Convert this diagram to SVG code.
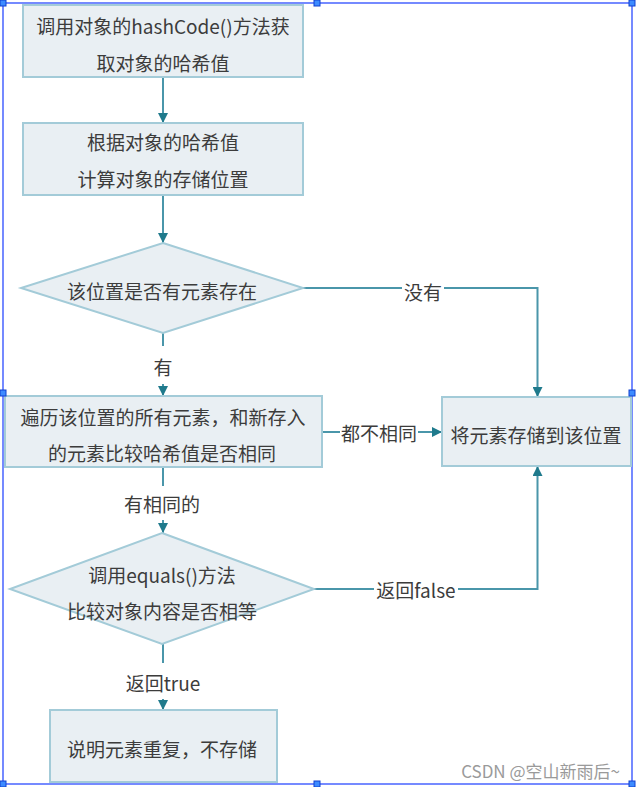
<svg xmlns="http://www.w3.org/2000/svg" width="636" height="787" viewBox="0 0 636 787">
<defs>
<marker id="arr" markerUnits="userSpaceOnUse" markerWidth="10" markerHeight="10" refX="10" refY="5" orient="auto">
<path d="M0,0 L10,5 L0,10 z" fill="#1f7a8c"/>
</marker>
<style>
.box{fill:#e9eff3;stroke:#a3cbd8;stroke-width:2}
.t{font-family:"Noto Sans CJK SC","Noto Sans",sans-serif;font-size:19px;fill:#3c3c3c;text-anchor:middle;dominant-baseline:central}
.c{fill:none;stroke:#4a96aa;stroke-width:2}
.lb{fill:#ffffff}
.h{fill:#3d8bff;stroke:#1040d0;stroke-width:1}
</style>
</defs>
<rect width="636" height="787" fill="#ffffff"/>
<rect x="3" y="3" width="629" height="781" fill="none" stroke="#1a3cff" stroke-width="1.2"/>
<g id="connectors">
<line class="c" x1="163" y1="77" x2="163" y2="123" marker-end="url(#arr)"/>
<line class="c" x1="163" y1="195" x2="163" y2="243" marker-end="url(#arr)"/>
<polyline class="c" points="303,288 537.5,288 537.5,397" marker-end="url(#arr)"/>
<rect class="lb" x="402" y="278" width="42" height="24"/>
<text class="t" x="423" y="291">没有</text>
<line class="c" x1="163" y1="333" x2="163" y2="396" marker-end="url(#arr)"/>
<rect class="lb" x="150" y="346" width="26" height="38"/>
<text class="t" x="163" y="366">有</text>
<line class="c" x1="322" y1="432" x2="442" y2="432" marker-end="url(#arr)"/>
<rect class="lb" x="340" y="420" width="78" height="24"/>
<text class="t" x="379" y="432">都不相同</text>
<line class="c" x1="163" y1="467" x2="163" y2="533" marker-end="url(#arr)"/>
<rect class="lb" x="120" y="486" width="86" height="34"/>
<text class="t" x="162" y="503">有相同的</text>
<polyline class="c" points="314,589 537.5,589 537.5,466" marker-end="url(#arr)"/>
<rect class="lb" x="374" y="577" width="84" height="24"/>
<text class="t" x="416" y="589">返回false</text>
<line class="c" x1="163" y1="644" x2="163" y2="710" marker-end="url(#arr)"/>
<rect class="lb" x="122" y="663" width="84" height="36"/>
<text class="t" x="163" y="682">返回true</text>
</g>
<g id="node-hash">
<rect class="box" x="23" y="5" width="280" height="72"/>
<text class="t" x="163" y="25">调用对象的hashCode()方法获</text>
<text class="t" x="163" y="62">取对象的哈希值</text>
</g>
<g id="node-position">
<rect class="box" x="23" y="123" width="280" height="72"/>
<text class="t" x="163" y="141">根据对象的哈希值</text>
<text class="t" x="163" y="178">计算对象的存储位置</text>
</g>
<g id="node-exists">
<polygon class="box" points="163,243 303,288 163,333 21,288"/>
<text class="t" x="162" y="290">该位置是否有元素存在</text>
</g>
<g id="node-traverse">
<rect class="box" x="5" y="396" width="317" height="71"/>
<text class="t" x="163" y="416">遍历该位置的所有元素，和新存入</text>
<text class="t" x="162" y="452">的元素比较哈希值是否相同</text>
</g>
<g id="node-store">
<rect class="box" x="442" y="397" width="189" height="69"/>
<text class="t" x="536" y="434">将元素存储到该位置</text>
</g>
<g id="node-equals">
<polygon class="box" points="162,533 314,589 162,644 10,589"/>
<text class="t" x="162" y="574">调用equals()方法</text>
<text class="t" x="162" y="610">比较对象内容是否相等</text>
</g>
<g id="node-duplicate">
<rect class="box" x="50" y="710" width="227" height="72"/>
<text class="t" x="162" y="748">说明元素重复，不存储</text>
</g>
<text x="620" y="770" font-family="Noto Sans CJK SC, Noto Sans, sans-serif" font-size="17" fill="#9a9a9a" text-anchor="end" dominant-baseline="central">CSDN @空山新雨后~</text>
<g id="handles">
<rect class="h" x="0" y="0" width="6" height="6"/>
<rect class="h" x="314" y="0" width="6" height="6"/>
<rect class="h" x="629" y="0" width="6" height="6"/>
<rect class="h" x="0" y="390" width="6" height="6"/>
<rect class="h" x="629" y="390" width="6" height="6"/>
<rect class="h" x="0" y="781" width="6" height="6"/>
<rect class="h" x="314" y="781" width="6" height="6"/>
<rect class="h" x="629" y="781" width="6" height="6"/>
</g>
</svg>
